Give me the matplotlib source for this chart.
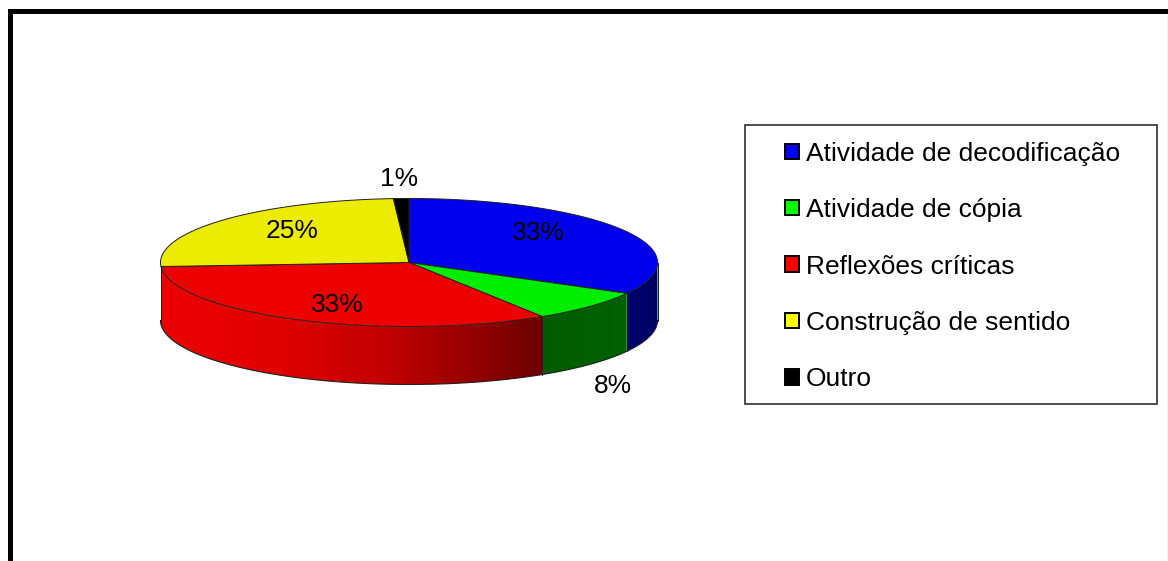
import matplotlib
matplotlib.use('Agg')
import matplotlib.pyplot as plt
import numpy as np
from matplotlib.colors import to_rgb
from matplotlib.patches import Polygon, Patch, Rectangle

plt.rcParams['font.family'] = ['Liberation Sans', 'DejaVu Sans']

categories = ['Atividade de decodificação', 'Atividade de cópia', 'Reflexões críticas',
              'Construção de sentido', 'Outro']
values = [33, 8, 33, 25, 1]

top_colors = ['#0000ec', '#00ec00', '#ec0000', '#ecec00', '#000000']
legend_colors = ['#0000ff', '#00ff00', '#ff0000', '#ffff00', '#000000']
# label centres in pixels
label_x = [538, 613, 337, 292, 399]
label_y = [233, 386, 305, 231, 179]

# pie geometry in pixels
cx, cy = 409, 262.5
rx, ry = 248.5, 64
depth = 58


def ellipse(t):
    return cx + rx * np.cos(t), cy - ry * np.sin(t)


def wall_gradient(i, n=256):
    # only the big red wall has a strong gradient
    f = np.linspace(0, 1, n)
    g = np.zeros((1, n, 3))
    if i == 0:
        g[0, :, 2] = np.interp(f, [0, 1], [112, 96]) / 255
    elif i == 1:
        g[0, :, 1] = np.interp(f, [0, 1], [92, 98]) / 255
    else:
        g[0, :, 0] = np.interp(f, [0, .3, .6, .8, 1], [236, 224, 192, 152, 108]) / 255
    return g


fig = plt.figure(figsize=(11.68, 5.61), dpi=100)
ax = fig.add_axes([0, 0, 1, 1])

# outer frame
ax.plot([9.5, 9.5, 1168], [561, 11, 11], color='black', lw=3.6, solid_joinstyle='miter',
        solid_capstyle='butt')
ax.plot([1167.5, 1167.5], [14, 561], color='#c0c0c0', lw=1)

edges = np.radians(90 - np.cumsum([0] + values) * 3.6)

# side walls, only the front half (sin < 0) shows
for i in range(len(values)):
    t0, t1 = edges[i], edges[i + 1]
    a = max(t1, -np.pi)
    b = min(t0, 0)
    if a >= b:
        continue
    ts = np.linspace(b, a, 120)
    xs, ys = ellipse(ts)
    pts = list(zip(xs, ys)) + list(zip(xs[::-1], ys[::-1] + depth))
    clip = Polygon(pts, closed=True, transform=ax.transData, facecolor='none', edgecolor='none')
    ax.add_patch(clip)
    im = ax.imshow(wall_gradient(i), extent=(xs.min(), xs.max(), cy + depth + ry, cy),
                   aspect='auto', interpolation='bilinear', zorder=2)
    im.set_clip_path(clip)
    ax.plot([xs[0], xs[0]], [ys[0], ys[0] + depth], color='#202020', lw=0.7, zorder=3)

ax.set_xlim(0, 1168)
ax.set_ylim(561, 0)
ax.axis('off')

# outline of the wall
ts = np.linspace(0, -np.pi, 300)
xs, ys = ellipse(ts)
ax.plot(xs, ys + depth, color='#202020', lw=0.8, zorder=3)
ax.plot([cx - rx, cx - rx], [cy, cy + depth], color='#202020', lw=0.7, zorder=3)
ax.plot([cx + rx, cx + rx], [cy, cy + depth], color='#202020', lw=0.7, zorder=3)

# top face
for i in range(len(values)):
    ts = np.linspace(edges[i], edges[i + 1], 150)
    xs, ys = ellipse(ts)
    pts = [(cx, cy)] + list(zip(xs, ys))
    ax.add_patch(Polygon(pts, closed=True, facecolor=to_rgb(top_colors[i]), edgecolor='#202020',
                         lw=0.7, zorder=4))

for v, lx, ly in zip(values, label_x, label_y):
    ax.text(lx, ly, '%d%%' % v, fontsize=19, ha='center', va='center', color='black', zorder=5)

# legend box
ax.add_patch(Rectangle((745, 125), 412, 279, facecolor='white', edgecolor='#303030', lw=1.2, zorder=1))
handles = [Patch(facecolor=c, edgecolor='black', lw=1.4) for c in legend_colors]
ax.legend(handles, categories, loc='center left', bbox_to_anchor=(785, 266.5),
          bbox_transform=ax.transData, frameon=False, fontsize=19, labelspacing=1.23,
          handlelength=0.52, handleheight=0.52, handletextpad=0.28, borderpad=0, borderaxespad=0)

fig.savefig('out.png', dpi=100)
